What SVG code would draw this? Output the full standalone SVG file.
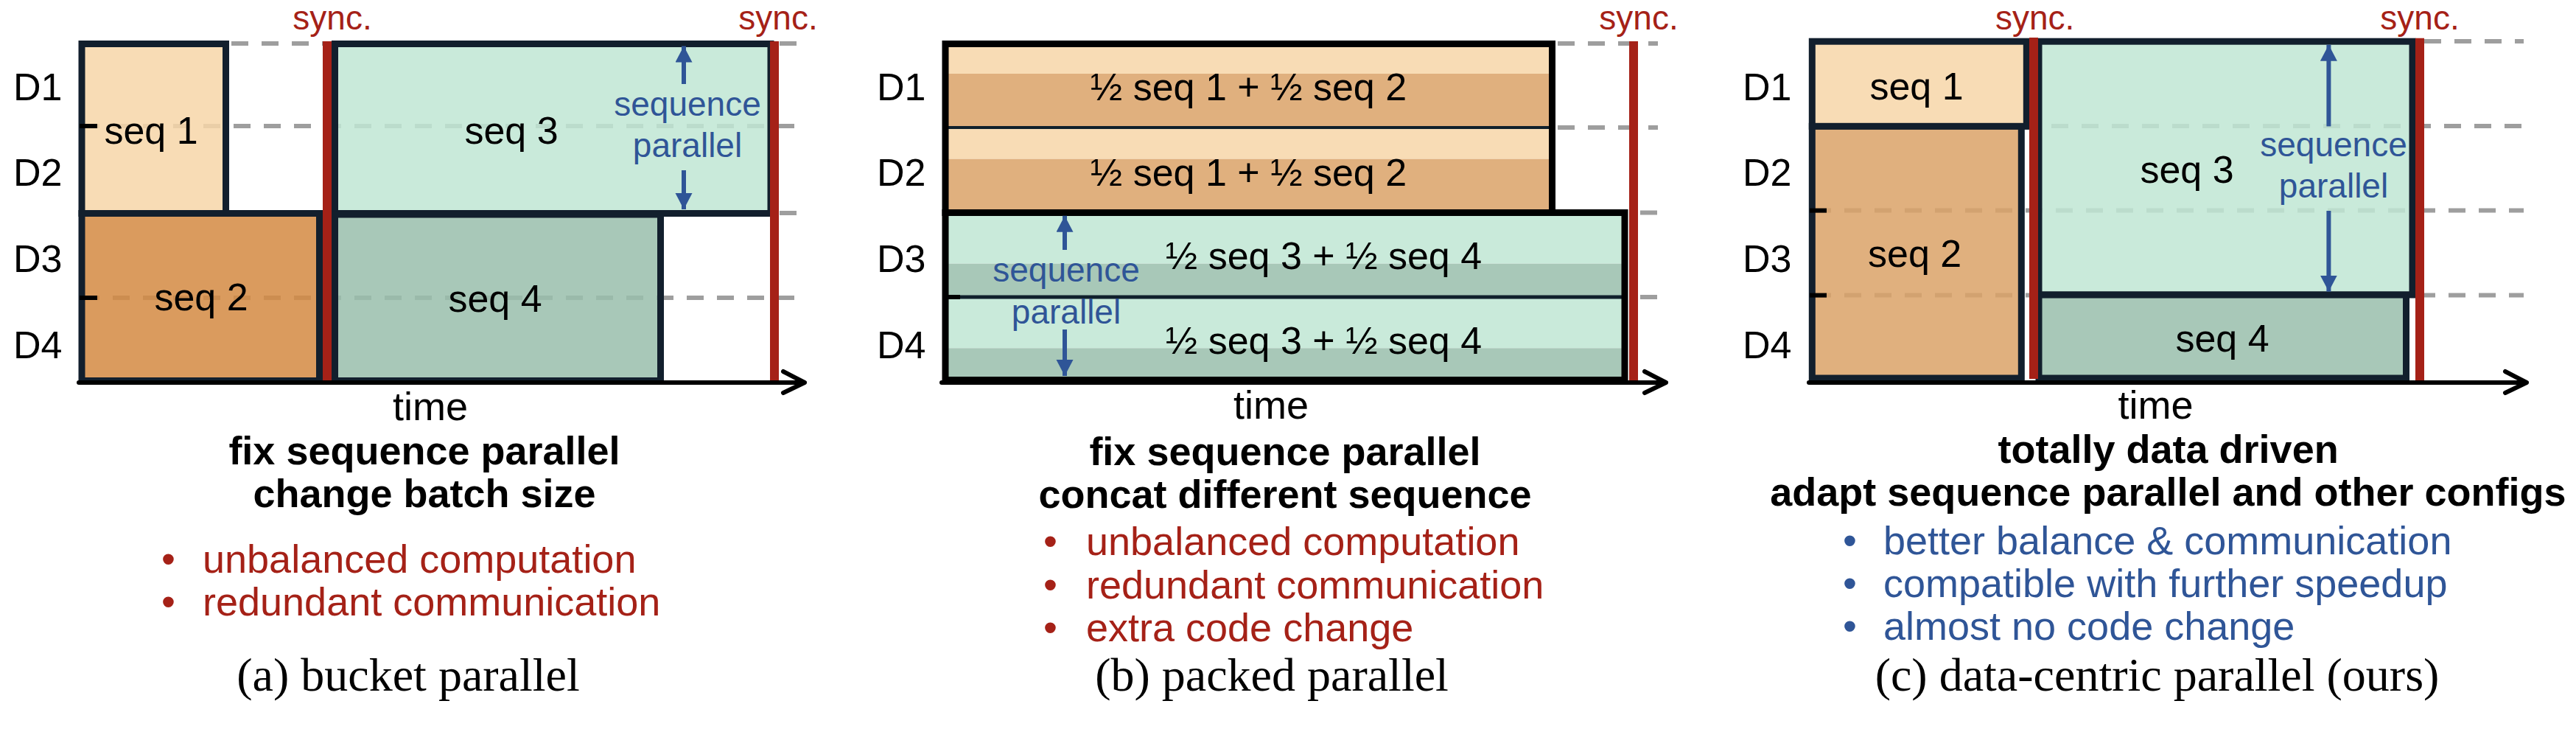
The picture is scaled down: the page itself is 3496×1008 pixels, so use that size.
<svg xmlns="http://www.w3.org/2000/svg" width="3496" height="1008" viewBox="0 0 3496 1008">
<defs>
<style>
text{font-family:"Liberation Sans",Arial,sans-serif;fill:#000}
.lbl{font-size:52px}
.mid{text-anchor:middle}
.sync{font-size:46px;fill:#a52117;text-anchor:middle}
.sp{font-size:46px;fill:#2f5597;text-anchor:middle}
.time{font-size:54px;text-anchor:middle}
.hd{font-size:54px;font-weight:bold;text-anchor:middle}
.br{font-size:54px;fill:#a52117}
.bb{font-size:54px;fill:#2f5597}
.cap{font-family:"Liberation Serif","Times New Roman",serif;font-size:64px;text-anchor:middle}
.dash{stroke:#9e9e9e;stroke-width:6;stroke-dasharray:23 18;fill:none}
.box{stroke:#121f2d;stroke-width:9;fill-opacity:0.85}
.pk{stroke:#000;stroke-width:9;fill:none}
.div{stroke:#10202c;fill:none}
.c1{fill:#f7d6a8}
.c2a{fill:#d48a42}
.c2{fill:#daa267}
.c3{fill:#c0e6d4}
.c4{fill:#99beac}
.sync-line{stroke:#a52117;stroke-width:12}
.axis{stroke:#000;stroke-width:6;fill:none;stroke-linecap:round;stroke-linejoin:round}
.tick{stroke:#000;stroke-width:6}
.sparr{stroke:#2f5597;stroke-width:6;fill:none;marker-end:url(#bh)}
</style>
<marker id="bh" markerUnits="userSpaceOnUse" markerWidth="24" markerHeight="24" refX="22" refY="11.5" orient="auto">
<path d="M0,0 L22,11.5 L0,23 z" fill="#2f5597"/>
</marker>
</defs>
<rect width="3496" height="1008" fill="#fff"/>

<!-- Panel (a) -->
<g id="panel-a">
<g id="a-grid">
<line class="dash" x1="314" y1="59" x2="440" y2="59"/>
<line class="dash" x1="1058" y1="59" x2="1082" y2="59"/>
<line class="dash" x1="112" y1="171" x2="1085" y2="171"/>
<line class="dash" x1="1058" y1="289" x2="1082" y2="289"/>
<line class="dash" x1="112" y1="404" x2="1082" y2="404"/>
</g>
<g id="a-seq1"><rect class="box c1" x="111" y="59.5" width="195.5" height="230"/><text class="lbl mid" x="205" y="195">seq 1</text></g>
<g id="a-seq2"><rect class="box c2a" x="111" y="289.5" width="322.5" height="227"/><text class="lbl mid" x="273" y="421">seq 2</text></g>
<g id="a-seq3"><rect class="box c3" x="454.5" y="59.5" width="591.5" height="230"/><text class="lbl mid" x="694" y="195">seq 3</text></g>
<g id="a-seq4"><rect class="box c4" x="454.5" y="291" width="442" height="225.5"/><text class="lbl mid" x="672" y="423">seq 4</text></g>
<g id="a-ticks"><line class="tick" x1="108" y1="171" x2="132" y2="171"/><line class="tick" x1="108" y1="404" x2="132" y2="404"/></g>
<g id="a-devices">
<text class="lbl" x="18" y="136">D1</text>
<text class="lbl" x="18" y="252">D2</text>
<text class="lbl" x="18" y="369">D3</text>
<text class="lbl" x="18" y="486">D4</text>
</g>
<g id="a-sync1"><line class="sync-line" x1="444" y1="56" x2="444" y2="516"/><text class="sync" x="451" y="40">sync.</text></g>
<g id="a-sync2"><line class="sync-line" x1="1051" y1="56" x2="1051" y2="516"/><text class="sync" x="1056" y="40">sync.</text></g>
<g id="a-sp"><text class="sp" x="933" y="157">sequence</text><text class="sp" x="933" y="213">parallel</text></g>
<g id="a-texts">
<text class="time" x="584" y="570">time</text>
<text class="hd" x="576" y="630">fix sequence parallel</text>
<text class="hd" x="576" y="688">change batch size</text>
<text class="br" x="219" y="777">•</text><text class="br" x="275" y="777">unbalanced computation</text>
<text class="br" x="219" y="835">•</text><text class="br" x="275" y="835">redundant communication</text>
<text class="cap" x="554" y="937">(a) bucket parallel</text>
</g>
</g>

<!-- Panel (b) -->
<g id="panel-b">
<g id="b-grid">
<line class="dash" x1="2114" y1="59" x2="2250" y2="59"/>
<line class="dash" x1="2114" y1="173" x2="2250" y2="173"/>
<line class="dash" x1="2226" y1="288.5" x2="2250" y2="288.5"/>
<line class="dash" x1="2226" y1="403" x2="2250" y2="403"/>
</g>
<g id="b-pack12">
<rect x="1283" y="59.5" width="823.5" height="40.5" fill="#f8dcb5"/>
<rect x="1283" y="100" width="823.5" height="73" fill="#e0b07e"/>
<rect x="1283" y="173" width="823.5" height="42.7" fill="#f8dcb5"/>
<rect x="1283" y="215.7" width="823.5" height="72.8" fill="#e0b07e"/>
<line class="div" x1="1283" y1="173" x2="2106.5" y2="173" stroke-width="4"/>
<rect class="pk" x="1283" y="59.5" width="823.5" height="229"/>
<text class="lbl mid" x="1694.5" y="136">½ seq 1 + ½ seq 2</text>
<text class="lbl mid" x="1694.5" y="252">½ seq 1 + ½ seq 2</text>
</g>
<g id="b-pack34">
<rect x="1283" y="288.5" width="922" height="69.2" fill="#c9eada"/>
<rect x="1283" y="357.7" width="922" height="45.3" fill="#a8c8b8"/>
<rect x="1283" y="403" width="922" height="69.3" fill="#c9eada"/>
<rect x="1283" y="472.3" width="922" height="43.2" fill="#a8c8b8"/>
<line class="div" x1="1283" y1="403" x2="2205" y2="403" stroke-width="5"/>
<rect class="pk" x="1283" y="288.5" width="922" height="227"/>
<text class="lbl mid" x="1796.5" y="365">½ seq 3 + ½ seq 4</text>
<text class="lbl mid" x="1796.5" y="480">½ seq 3 + ½ seq 4</text>
</g>
<g id="b-ticks"><line class="tick" x1="1287" y1="403" x2="1303" y2="403"/></g>
<g id="b-devices">
<text class="lbl" x="1190" y="136">D1</text>
<text class="lbl" x="1190" y="252">D2</text>
<text class="lbl" x="1190" y="369">D3</text>
<text class="lbl" x="1190" y="486">D4</text>
</g>
<g id="b-sync"><line class="sync-line" x1="2217" y1="56" x2="2217" y2="516"/><text class="sync" x="2224" y="40">sync.</text></g>
<g id="b-sp"><text class="sp" x="1447" y="382">sequence</text><text class="sp" x="1447" y="439">parallel</text></g>
<g id="b-texts">
<text class="time" x="1725" y="568">time</text>
<text class="hd" x="1744" y="631">fix sequence parallel</text>
<text class="hd" x="1744" y="689">concat different sequence</text>
<text class="br" x="1416" y="753">•</text><text class="br" x="1474" y="753">unbalanced computation</text>
<text class="br" x="1416" y="812">•</text><text class="br" x="1474" y="812">redundant communication</text>
<text class="br" x="1416" y="870">•</text><text class="br" x="1474" y="870">extra code change</text>
<text class="cap" x="1726" y="937">(b) packed parallel</text>
</g>
</g>

<!-- Panel (c) -->
<g id="panel-c">
<g id="c-grid">
<line class="dash" x1="3290" y1="56" x2="3425" y2="56"/>
<line class="dash" x1="2784" y1="171" x2="3425" y2="171"/>
<line class="dash" x1="2462" y1="285.6" x2="3425" y2="285.6"/>
<line class="dash" x1="2462" y1="400.6" x2="3425" y2="400.6"/>
</g>
<g id="c-seq1"><rect class="box c1" x="2459.3" y="56.2" width="291" height="115.2"/><text class="lbl mid" x="2601" y="135">seq 1</text></g>
<g id="c-seq2"><rect class="box c2" x="2459.3" y="171.4" width="284" height="341.6"/><text class="lbl mid" x="2598.6" y="362">seq 2</text></g>
<g id="c-seq3"><rect class="box c3" x="2767" y="56.2" width="507" height="343.8"/><text class="lbl mid" x="2968" y="248">seq 3</text></g>
<g id="c-seq4"><rect class="box c4" x="2767" y="400" width="498.5" height="113"/><text class="lbl mid" x="3016" y="477">seq 4</text></g>
<g id="c-ticks"><line class="tick" x1="2456" y1="285.6" x2="2479" y2="285.6"/><line class="tick" x1="2456" y1="400.6" x2="2479" y2="400.6"/></g>
<g id="c-devices">
<text class="lbl" x="2365" y="136">D1</text>
<text class="lbl" x="2365" y="252">D2</text>
<text class="lbl" x="2365" y="369">D3</text>
<text class="lbl" x="2365" y="486">D4</text>
</g>
<g id="c-sync1"><line class="sync-line" x1="2760" y1="51" x2="2760" y2="514"/><text class="sync" x="2761.6" y="40">sync.</text></g>
<g id="c-sync2"><line class="sync-line" x1="3284" y1="51.8" x2="3284" y2="517"/><text class="sync" x="3284" y="40">sync.</text></g>
<g id="c-sp"><text class="sp" x="3167" y="212">sequence</text><text class="sp" x="3167" y="268">parallel</text></g>
<g id="c-texts">
<text class="time" x="2925.6" y="568">time</text>
<text class="hd" x="2942.6" y="628">totally data driven</text>
<text class="hd" x="2942.4" y="686">adapt sequence parallel and other configs</text>
<text class="bb" x="2501" y="752">•</text><text class="bb" x="2556" y="752">better balance &amp; communication</text>
<text class="bb" x="2501" y="810">•</text><text class="bb" x="2556" y="810">compatible with further speedup</text>
<text class="bb" x="2501" y="868">•</text><text class="bb" x="2556" y="868">almost no code change</text>
<text class="cap" x="2927.5" y="937">(c) data-centric parallel (ours)</text>
</g>
</g>

<!-- Connectors: time axes and sequence-parallel arrows -->
<g id="connectors">
<line class="axis" x1="107" y1="519" x2="1090" y2="519"/>
<polyline class="axis" points="1063,504 1092,519 1063,533"/>
<line class="axis" x1="1278" y1="519" x2="2259" y2="519"/>
<polyline class="axis" points="2232,504 2261,519 2232,533"/>
<line class="axis" x1="2455" y1="519" x2="3427" y2="519"/>
<polyline class="axis" points="3400,504 3429,519 3400,533"/>
<line class="sparr" x1="928" y1="114" x2="928" y2="62.5"/>
<line class="sparr" x1="928" y1="231" x2="928" y2="284"/>
<line class="sparr" x1="1445" y1="339" x2="1445" y2="292.7"/>
<line class="sparr" x1="1445" y1="447" x2="1445" y2="510"/>
<line class="sparr" x1="3160.4" y1="171.4" x2="3160.4" y2="60.7"/>
<line class="sparr" x1="3160.4" y1="286" x2="3160.4" y2="395.6"/>
</g>
</svg>
